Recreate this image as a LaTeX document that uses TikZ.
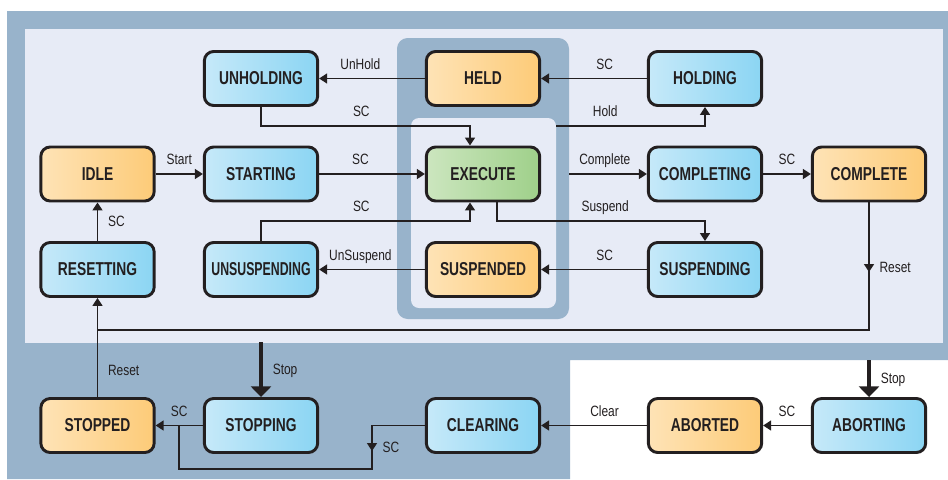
\documentclass[tikz,border=0pt]{standalone}
\usepackage{fontspec}
\setmainfont{Liberation Sans}[FakeStretch=0.8]
\newfontfamily\statefont{Liberation Sans}[FakeStretch=0.74]
\newfontfamily\statefontnarrow{Liberation Sans}[FakeStretch=0.66]
\usetikzlibrary{arrows.meta, positioning}

\definecolor{panelblue}{HTML}{98B3CB}
\definecolor{panelpale}{HTML}{E7EBF6}
\definecolor{inkdark}{HTML}{231F20}
\definecolor{orangeL}{HTML}{FEE3B6}
\definecolor{orangeR}{HTML}{FDCB78}
\definecolor{cyanL}{HTML}{C6E9F9}
\definecolor{cyanR}{HTML}{8BD5F3}
\definecolor{greenL}{HTML}{CCE6BF}
\definecolor{greenR}{HTML}{9FD08A}

\tikzset{
  statebox/.style={draw=inkdark, line width=2.2pt, rounded corners=7pt,
    minimum width=85pt, minimum height=40.5pt, text=inkdark,
    font=\statefont\bfseries\fontsize{14}{16}\selectfont},
  waitstate/.style={statebox, left color=orangeL, right color=orangeR},
  actstate/.style={statebox, left color=cyanL, right color=cyanR},
  runstate/.style={statebox, left color=greenL, right color=greenR},
  link/.style={draw=inkdark, line width=1.2pt, -{Triangle[length=6pt, width=7.5pt]}},
  wire/.style={draw=inkdark, line width=1.2pt},
  stoparrow/.style={draw=inkdark, line width=3pt, -{Triangle[length=8pt, width=15pt]}},
  lbl/.style={text=inkdark, font=\fontsize{11.2}{13}\selectfont, text depth=0pt}
}

\begin{document}
\begin{tikzpicture}[x=0.75pt, y=-0.75pt]
\useasboundingbox (0,0) rectangle (948,479);

% Background panels
\fill[panelblue] (7,11) -- (948,11) -- (948,360) -- (570,360) -- (570,479) -- (7,479) -- cycle;
\fill[panelpale] (25,29) rectangle (943,343);
\fill[panelblue, rounded corners=8pt] (397,38) rectangle (569,319);
\fill[panelpale, rounded corners=6pt] (411,118) rectangle (556,308);

% Top row
\node[actstate] (unholding) at (261,78.5) {UNHOLDING};
\node[waitstate] (held) at (483,78.5) {HELD};
\node[actstate] (holding) at (705,78.5) {HOLDING};

% Middle row
\node[waitstate] (idle) at (97.5,174) {IDLE};
\node[actstate] (starting) at (261,174) {STARTING};
\node[runstate] (execute) at (483,174) {EXECUTE};
\node[actstate] (completing) at (705,174) {COMPLETING};
\node[waitstate] (complete) at (869,174) {COMPLETE};

% Lower row
\node[actstate] (resetting) at (97.5,269.5) {RESETTING};
\node[actstate, font=\statefontnarrow\bfseries\fontsize{14}{16}\selectfont] (unsuspending) at (261,269.5) {UNSUSPENDING};
\node[waitstate] (suspended) at (483,269.5) {SUSPENDED};
\node[actstate] (suspending) at (705,269.5) {SUSPENDING};

% Bottom row
\node[waitstate] (stopped) at (97.5,425.5) {STOPPED};
\node[actstate] (stopping) at (261,425.5) {STOPPING};
\node[actstate] (clearing) at (483,425.5) {CLEARING};
\node[waitstate] (aborted) at (705,425.5) {ABORTED};
\node[actstate] (aborting) at (869,425.5) {ABORTING};

% Hold loop
\draw[link] (held) -- node[lbl, above=3pt, pos=0.61] {UnHold} (unholding);
\draw[link] (holding) -- node[lbl, above=3pt, pos=0.4] {SC} (held);
\coordinate (unholdjoin) at (470,126);
\draw[link] (unholding.south) |- node[lbl, above=3pt, pos=0.74] {SC} (unholdjoin) -- (unholdjoin |- execute.north);
\coordinate (holdstart) at (556,126);
\draw[link] (holdstart) -| node[lbl, above=3pt, pos=0.165] {Hold} (holding.south);

% Main line
\draw[link] (idle) -- node[lbl, above=3pt] {Start} (starting);
\draw[link] (starting) -- node[lbl, above=3pt, pos=0.39] {SC} (execute);
\coordinate (completestart) at (569,174);
\draw[link] (completestart) -- node[lbl, above=3pt, pos=0.46] {Complete} (completing);
\draw[link] (completing) -- node[lbl, above=3pt] {SC} (complete);

% Suspend loop
\coordinate (suspendjoin) at (497,221);
\draw[link] (execute.south -| suspendjoin) -- (suspendjoin) -| node[lbl, above=3pt, pos=0.26] {Suspend} (suspending.north);
\draw[link] (suspending) -- node[lbl, above=3pt, pos=0.4] {SC} (suspended);
\draw[link] (suspended) -- node[lbl, above=3pt, pos=0.61] {UnSuspend} (unsuspending);
\coordinate (unsuspendjoin) at (470,221);
\draw[link] (unsuspending.north) |- node[lbl, above=3pt, pos=0.74] {SC} (unsuspendjoin) -- (unsuspendjoin |- execute.south);

% Reset
\draw[link] (resetting) -- node[lbl, right=4pt] {SC} (idle);
\coordinate (resetright) at (869,330);
\coordinate (resetleft) at (97.5,330);
\coordinate (resetmid) at (869,272);
\draw[wire] (complete.south) -- (resetright) -- (resetleft);
\draw[link] (complete.south) -- node[lbl, right=4pt, pos=0.93] {Reset} (resetmid);
\draw[link] (stopped.north) -- node[lbl, right=4pt, pos=0.4] {Reset} (resetleft) -- (resetting.south);

% Stop
\coordinate (stopstart) at (261,342);
\draw[stoparrow] (stopstart) -- node[lbl, right=4pt] {Stop} (stopping);
\coordinate (abortstart) at (869,360);
\draw[stoparrow] (abortstart) -- node[lbl, right=4pt] {Stop} (aborting);

% Stopping, aborting, clearing
\draw[link] (stopping) -- node[lbl, above=3pt] {SC} (stopped);
\draw[link] (aborting) -- node[lbl, above=3pt] {SC} (aborted);
\draw[link] (aborted) -- node[lbl, above=3pt, pos=0.4] {Clear} (clearing);
\coordinate (clearturn) at (372,469);
\coordinate (clearback) at (179,469);
\coordinate (clearmid) at (372,451);
\draw[wire] (clearing.west) -| (clearturn) -- (clearback) -- (clearback |- stopping.west);
\draw[link] (clearing.west -| clearturn) -- node[lbl, right=4pt, pos=0.84] {SC} (clearmid);
\end{tikzpicture}
\end{document}
